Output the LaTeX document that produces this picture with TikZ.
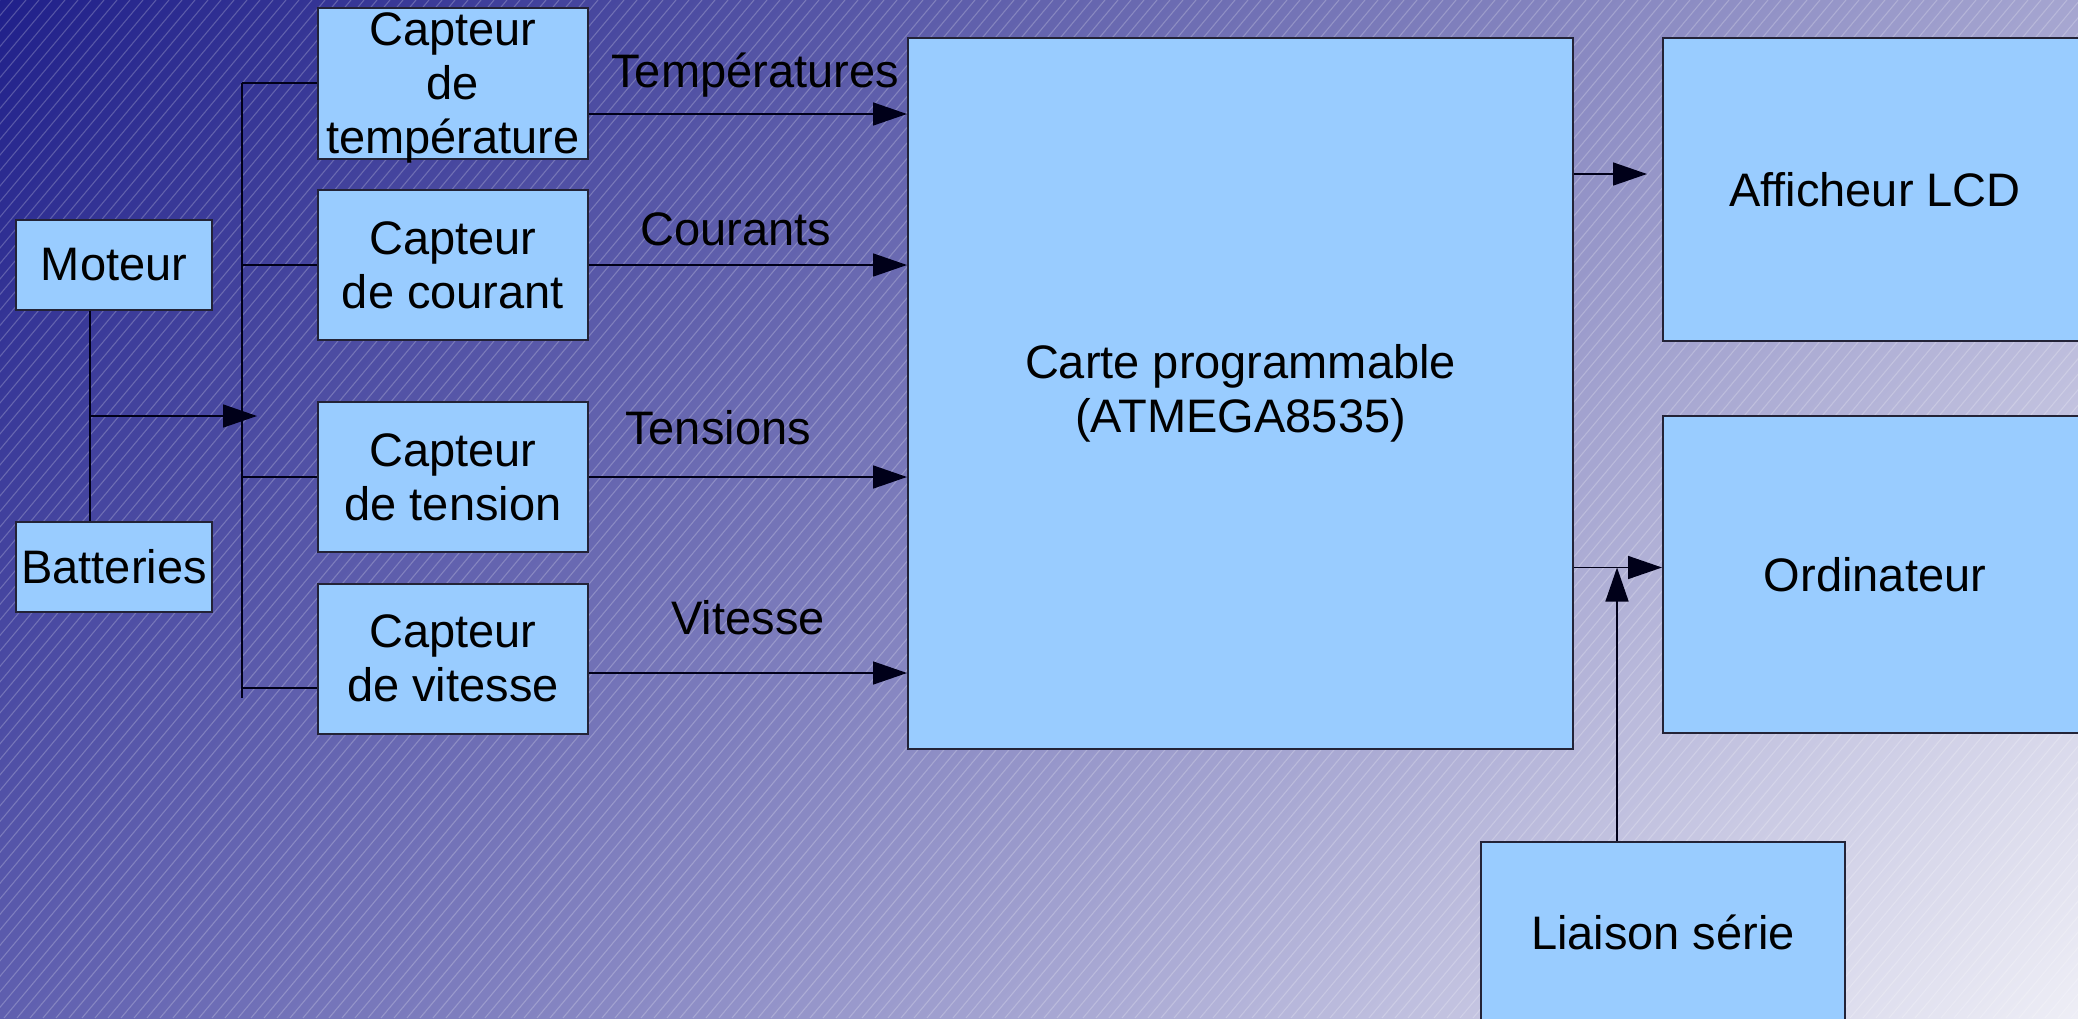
\documentclass[tikz,border=0pt]{standalone}
\usepackage{fontspec}
\setmainfont{Liberation Sans}
\usetikzlibrary{arrows.meta,calc,shadings}
\definecolor{bgTL}{RGB}{32,32,138}
\definecolor{bgTR}{RGB}{165,165,208}
\definecolor{bgBL}{RGB}{95,95,175}
\definecolor{bgBR}{RGB}{238,238,246}
\definecolor{boxblue}{RGB}{153,204,255}
\definecolor{edge}{RGB}{35,35,55}
\tikzset{
  blk/.style={draw=edge, fill=boxblue, line width=1pt, inner sep=0pt, align=center,
    font=\fontsize{23.5}{27}\selectfont},
  conn/.style={draw=black!90!blue, line width=0.8pt},
  arr/.style={conn, -{Triangle[length=17pt,width=11.5pt]}},
  lbl/.style={font=\fontsize{23.5}{27}\selectfont, inner sep=0pt},
  hatch/.style={white, opacity=0.22, line width=0.55pt}
}
\begin{document}
\begin{tikzpicture}[x=0.5pt,y=-0.5pt]
\useasboundingbox (0,0) rectangle (2078,1018);
\shade[upper left=bgTL, upper right=bgTR, lower left=bgBL, lower right=bgBR] (0,0) rectangle (2078,1018);
\begin{scope}
\clip (0,0) rectangle (2078,1018);
\foreach \x in {-880,-867,...,2090} \draw[hatch] (\x,1018) -- ++(854,-1018);
\end{scope}

% nodes
\node[blk, minimum width=98pt, minimum height=45pt] (mot) at (114,265) {Moteur};
\node[blk, minimum width=98pt, minimum height=45pt] (bat) at (114,567) {Batteries};
\node[blk, minimum width=135pt, minimum height=75.5pt, text depth=0pt] (temp) at (453,83.5) {Capteur\\de\\température};
\node[blk, minimum width=135pt, minimum height=75pt] (cour) at (453,265) {Capteur\\de courant};
\node[blk, minimum width=135pt, minimum height=75pt] (tens) at (453,477) {Capteur\\de tension};
\node[blk, minimum width=135pt, minimum height=75pt] (vit) at (453,658.5) {Capteur\\de vitesse};
\node[blk, minimum width=332.5pt, minimum height=355.5pt] (carte) at (1240.5,393.5) {Carte programmable\\(ATMEGA8535)};
\node[blk, minimum width=212pt, minimum height=151.5pt] (lcd) at (1875,189.5) {Afficheur LCD};
\node[blk, minimum width=212pt, minimum height=158.5pt] (ord) at (1875,574.5) {Ordinateur};
\node[blk, minimum width=182pt, minimum height=90pt] (lia) at (1663,932) {Liaison série};

% labels
\node[lbl] (lT) at (755,75) {Températures};
\node[lbl] (lC) at (736,229) {Courants};
\node[lbl] (lV) at (718,428) {Tensions};
\node[lbl] (lS) at (748,618) {Vitesse};

% coordinates
\coordinate (mB) at ($(mot.south)+(-24,0)$);
\coordinate (jn) at (90,416);
\coordinate (jnEnd) at (257,416);
\coordinate (busTop) at (242,83);
\coordinate (busBot) at (242,698);
\coordinate (vitB) at ($(vit.west)+(0,29.5)$);
\coordinate (tO) at ($(temp.east)+(0,30.5)$);
\coordinate (vO) at ($(vit.east)+(0,14.5)$);
\coordinate (lcdIn) at ($(lcd.west)+(-15,-15.5)$);
\coordinate (ordIn) at ($(ord.west)+(0,-7)$);
\coordinate (liaUp) at ($(lia.north)+(-46,0)$);

% Moteur - Batteries
\draw[conn] (mB) -- (mB |- bat.north);
\draw[arr] (jn) -- (jnEnd);
% bus
\draw[conn] (busTop) -- (busBot);
\draw[conn] (busTop) -- (busTop -| temp.west);
\draw[conn] (cour.west -| busTop) -- (cour.west);
\draw[conn] (tens.west -| busTop) -- (tens.west);
\draw[conn] (vitB -| busTop) -- (vitB);
% sensors to carte
\draw[arr] (tO) -- (tO -| carte.west);
\draw[arr] (cour.east) -- (cour.east -| carte.west);
\draw[arr] (tens.east) -- (tens.east -| carte.west);
\draw[arr] (vO) -- (vO -| carte.west);
% outputs
\draw[arr] (lcdIn -| carte.east) -- (lcdIn);
\draw[arr] (ordIn -| carte.east) -- (ordIn);
\draw[arr] (liaUp) -- (liaUp |- ordIn);
\end{tikzpicture}
\end{document}
